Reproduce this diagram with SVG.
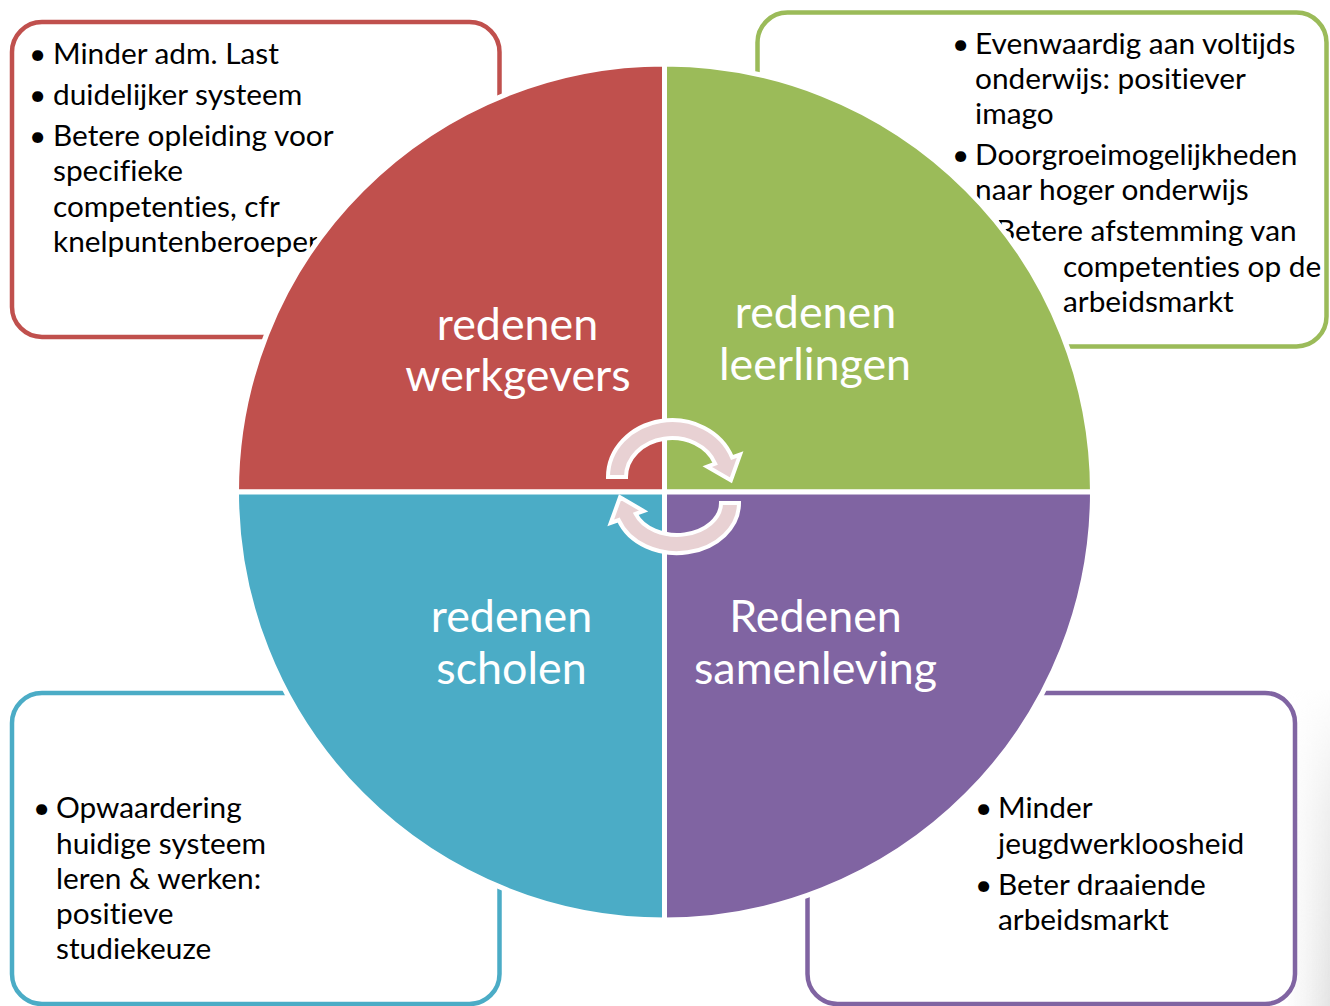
<svg xmlns="http://www.w3.org/2000/svg" width="1330" height="1006" viewBox="0 0 1330 1006">
<defs>
<style>
.box{fill:#fff;stroke-width:4.5}
.t{font-family:Lato,"Open Sans","Liberation Sans",sans-serif;font-size:29.8px;fill:#000;font-variant-ligatures:none}
.lbl{font-family:Lato,"Open Sans","Liberation Sans",sans-serif;font-size:44.8px;fill:#fff;text-anchor:middle;font-variant-ligatures:none}
.q{stroke:#fff;stroke-width:5}
.arr{fill:#e8d1d3;stroke:#fff;stroke-width:4;stroke-linejoin:miter}
</style>
<linearGradient id="sh" x1="0" y1="0" x2="1" y2="0">
<stop offset="0" stop-color="#ececec" stop-opacity="0"/>
<stop offset="1" stop-color="#e4e4e4" stop-opacity="1"/>
</linearGradient>
<linearGradient id="shv" x1="0" y1="0" x2="0" y2="1">
<stop offset="0" stop-color="#fff" stop-opacity="0"/>
<stop offset="0.4" stop-color="#fff" stop-opacity="0.6"/>
<stop offset="1" stop-color="#fff" stop-opacity="1"/>
</linearGradient>
<mask id="shm" maskUnits="userSpaceOnUse" x="1280" y="680" width="50" height="326">
<rect x="1280" y="680" width="50" height="326" fill="url(#shv)"/>
</mask>
</defs>
<rect width="1330" height="1006" fill="#fff"/>
<rect x="1285" y="690" width="45" height="316" fill="url(#sh)" mask="url(#shm)"/>

<g id="box-werkgevers">
<rect class="box" x="12" y="22" width="487.5" height="315" rx="30" stroke="#c0504d"/>
<text class="t"><tspan x="29" y="64">•</tspan><tspan x="53" y="64">Minder adm. Last</tspan><tspan x="29" y="105">•</tspan><tspan x="53" y="105">duidelijker systeem</tspan><tspan x="29" y="146">•</tspan><tspan x="53" y="146">Betere opleiding voor</tspan><tspan x="53" y="181">specifieke</tspan><tspan x="53" y="217">competenties, cfr</tspan><tspan x="53" y="252">knelpuntenberoepen</tspan></text>
</g>

<g id="box-leerlingen">
<rect class="box" x="757.5" y="12.5" width="569" height="334" rx="30" stroke="#9bbb59"/>
<text class="t"><tspan x="952" y="54">•</tspan><tspan x="975" y="54">Evenwaardig aan voltijds</tspan><tspan x="975" y="89">onderwijs: positiever</tspan><tspan x="975" y="124">imago</tspan><tspan x="952" y="165">•</tspan><tspan x="975" y="165">Doorgroeimogelijkheden</tspan><tspan x="975" y="200">naar hoger onderwijs</tspan><tspan x="996" y="241">Betere afstemming van</tspan><tspan x="1063" y="277">competenties op de</tspan><tspan x="1063" y="312">arbeidsmarkt</tspan></text>
</g>

<g id="box-scholen">
<rect class="box" x="12" y="693" width="487.5" height="311" rx="30" stroke="#4bacc6"/>
<text class="t"><tspan x="33" y="818">•</tspan><tspan x="56" y="818">Opwaardering</tspan><tspan x="56" y="854">huidige systeem</tspan><tspan x="56" y="889">leren &amp; werken:</tspan><tspan x="56" y="924">positieve</tspan><tspan x="56" y="959">studiekeuze</tspan></text>
</g>

<g id="box-samenleving">
<rect class="box" x="807.5" y="693" width="487.5" height="311" rx="30" stroke="#8064a2"/>
<text class="t"><tspan x="975" y="818">•</tspan><tspan x="998" y="818">Minder</tspan><tspan x="998" y="854">jeugdwerkloosheid</tspan><tspan x="975" y="895">•</tspan><tspan x="998" y="895">Beter draaiende</tspan><tspan x="998" y="930">arbeidsmarkt</tspan></text>
</g>

<g id="node-werkgevers">
<path class="q" fill="#c0504d" d="M664.5,492 L236.5,492 A428,428 0 0 1 664.5,64 Z"/>
<text class="lbl"><tspan x="517.5" y="340">redenen</tspan><tspan x="518" y="391">werkgevers</tspan></text>
</g>
<g id="node-leerlingen">
<path class="q" fill="#9bbb59" d="M664.5,492 L664.5,64 A428,428 0 0 1 1092.5,492 Z"/>
<text class="lbl"><tspan x="815.5" y="328">redenen</tspan><tspan x="815" y="380">leerlingen</tspan></text>
</g>
<g id="node-samenleving">
<path class="q" fill="#8064a2" d="M664.5,492 L1092.5,492 A428,428 0 0 1 664.5,920 Z"/>
<text class="lbl"><tspan x="815.5" y="632">Redenen</tspan><tspan x="815.5" y="684">samenleving</tspan></text>
</g>
<g id="node-scholen">
<path class="q" fill="#4bacc6" d="M664.5,492 L664.5,920 A428,428 0 0 1 236.5,492 Z"/>
<text class="lbl"><tspan x="511.5" y="632">redenen</tspan><tspan x="511.5" y="684">scholen</tspan></text>
</g>

<g id="connectors">
<path class="arr" d="M608,477 A64,57 0 0 1 732.1,457.5 L740.1,454.6 L730.9,480.3 L707.2,466.6 L715.2,463.7 A46,39 0 0 0 626,477 Z"/>
<path class="arr" d="M739,503 A62,50 0 0 1 618.7,520.1 L610.7,523 L620,497.3 L643.6,511 L635.7,513.9 A44,32 0 0 0 721,503 Z"/>
</g>
</svg>
